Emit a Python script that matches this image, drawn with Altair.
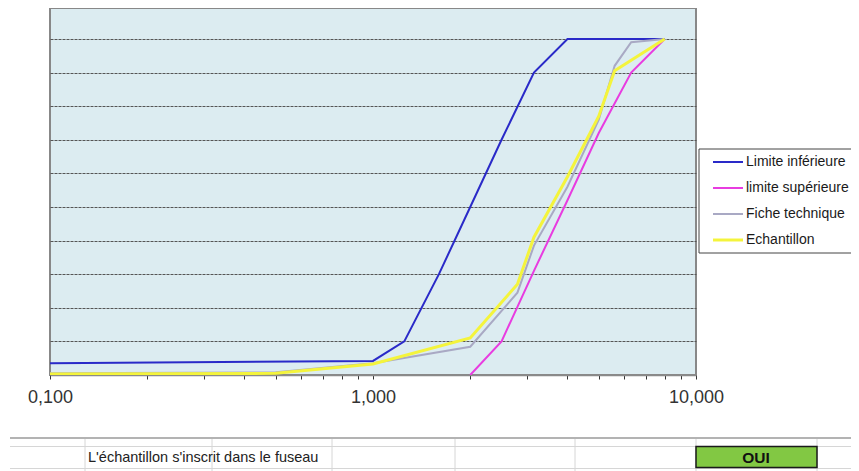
import altair as alt
import pandas as pd

# ---- data ----
series = ["Limite inférieure", "limite supérieure", "Fiche technique", "Echantillon"]
colors = ["#2a2ac8", "#e83ce0", "#a9a9c4", "#f4f43c"]
widths = [2, 2, 2, 3]

sizes_inf = [0.1, 1.0, 1.25, 1.6, 2.0, 2.5, 3.15, 4.0, 8.0]
vals_inf = [3.5, 4.2, 10, 30, 50, 70, 90, 100, 100]

sizes_sup = [2.0, 2.5, 3.15, 4.0, 5.0, 6.3, 8.0]
vals_sup = [0, 10, 31, 52, 72, 90, 100]

sizes_fiche = [0.1, 0.5, 1.0, 2.0, 2.8, 3.15, 4.0, 5.0, 5.6, 6.3, 8.0]
vals_fiche = [0.5, 0.8, 3.5, 8.4, 24.5, 38.5, 56, 76, 92, 99, 100]

sizes_ech = [0.1, 0.5, 1.0, 2.0, 2.8, 3.15, 4.0, 5.0, 5.6, 8.0]
vals_ech = [0.3, 0.5, 3.3, 11, 27, 41, 59, 77, 90.5, 100]

x_ticks = [0.1, 0.2, 0.3, 0.4, 0.5, 0.6, 0.7, 0.8, 0.9, 1, 2, 3, 4, 5, 6, 7, 8, 9, 10]
x_labels = {0.1: "0,100", 1: "1,000", 10: "10,000"}
grid_values = [10, 20, 30, 40, 50, 60, 70, 80, 90, 100]

table_text = "L'échantillon s'inscrit dans le fuseau"
verdict = "OUI"

# ---- build table ----
rows = []
for name, xs, ys in zip(series, [sizes_inf, sizes_sup, sizes_fiche, sizes_ech],
                        [vals_inf, vals_sup, vals_fiche, vals_ech]):
    for xv, yv in zip(xs, ys):
        rows.append({"serie": name, "tamis": xv, "passant": yv})
df = pd.DataFrame(rows)
one = pd.DataFrame({"k": [0]})

FONT = "Liberation Sans"

label_expr = ""
for v, t in x_labels.items():
    label_expr += f"datum.value == {v} ? '{t}' : "
label_expr += "''"

x_enc = alt.X(
    "tamis:Q",
    scale=alt.Scale(type="log", domain=[0.1, 10]),
    axis=alt.Axis(values=x_ticks, labelExpr=label_expr, title=None, grid=False,
                  tickSize=4, tickColor="#333333", domainColor="#8a8a8a", domainWidth=1.5,
                  labelFontSize=18, labelColor="#333333", labelPadding=9,
                  labelOverlap=False, labelFlush=False, labelBound=False, labelFont=FONT),
)
y_enc = alt.Y(
    "passant:Q",
    scale=alt.Scale(domain=[0, 109.2], nice=False, zero=True),
    axis=alt.Axis(values=grid_values, labels=False, ticks=False, domain=False, grid=True,
                  gridColor="#555555", gridDash=[3, 1], gridWidth=1.2, title=None),
)
color_enc = alt.Color("serie:N", scale=alt.Scale(domain=series, range=colors), legend=None)

layers = []
for name, w in zip(series, widths):
    layers.append(
        alt.Chart(df)
        .transform_filter(alt.datum.serie == name)
        .mark_line(strokeWidth=w, clip=True)
        .encode(x=x_enc, y=y_enc, color=color_enc, order="tamis:Q")
    )

# ---- legend (manual box) ----
layers.append(
    alt.Chart(one).mark_rect(fill="white", stroke="#444444", strokeWidth=1).encode(
        x=alt.value(649), x2=alt.value(818), y=alt.value(141), y2=alt.value(245))
)
for i, (name, c, w) in enumerate(zip(series, colors, widths)):
    yy = 154 + 26 * i
    layers.append(
        alt.Chart(one).mark_rule(color=c, strokeWidth=w).encode(
            x=alt.value(663), x2=alt.value(693), y=alt.value(yy))
    )
    layers.append(
        alt.Chart(one).mark_text(text=name, align="left", baseline="middle", fontSize=14,
                                 font=FONT, color="#1a1a1a").encode(
            x=alt.value(696), y=alt.value(yy))
    )

# ---- spreadsheet row below ----
layers.append(
    alt.Chart(one).mark_rule(color="#9a9a9a", strokeWidth=1.5).encode(
        x=alt.value(-40), x2=alt.value(815), y=alt.value(430))
)
for yy in [438.5, 460.5]:
    layers.append(
        alt.Chart(one).mark_rule(color="#d6d6d6", strokeWidth=1).encode(
            x=alt.value(-40), x2=alt.value(815), y=alt.value(yy))
    )
for xx in [35, 162, 282, 405, 525, 646, 767]:
    layers.append(
        alt.Chart(one).mark_rule(color="#d6d6d6", strokeWidth=1).encode(
            x=alt.value(xx), y=alt.value(431), y2=alt.value(470))
    )
layers.append(
    alt.Chart(one).mark_text(text=table_text, align="left", baseline="middle", fontSize=14.5,
                             font=FONT, color="#222222").encode(
        x=alt.value(38), y=alt.value(450))
)
layers.append(
    alt.Chart(one).mark_rect(fill="#82c843", stroke="#1a1a1a", strokeWidth=1.5).encode(
        x=alt.value(646), x2=alt.value(767), y=alt.value(438.5), y2=alt.value(459.5))
)
layers.append(
    alt.Chart(one).mark_text(text=verdict, align="center", baseline="middle", fontSize=15.5,
                             fontWeight="bold", font=FONT, color="#111111").encode(
        x=alt.value(706), y=alt.value(449.5))
)

chart = (
    alt.layer(*layers)
    .properties(width=646, height=367,
                autosize=alt.AutoSizeParams(type="none"),
                padding={"left": 42, "top": 0, "right": 155, "bottom": 96},
                background="white",
                view=alt.ViewBackground(fill="#dcecf1", stroke="#888888", strokeWidth=2))
    .configure(font=FONT)
)

chart.save("out.html", embed_options={"renderer": "svg", "actions": False})
